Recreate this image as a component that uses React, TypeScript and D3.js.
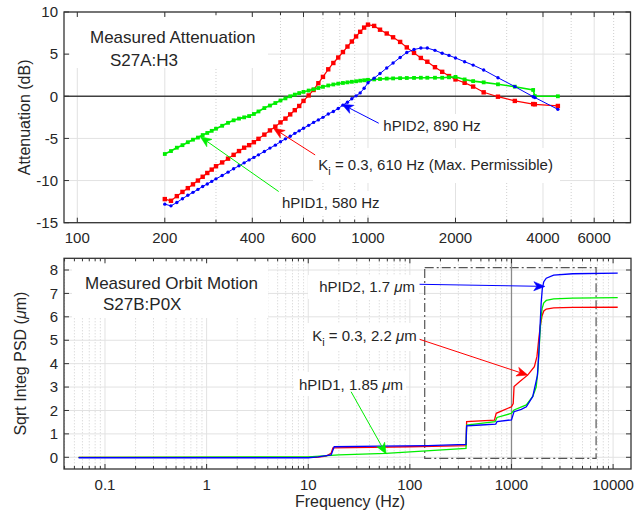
import * as d3 from "d3";
import { useEffect, useRef } from "react";

// ---------- top panel: measured attenuation (dB) ----------
const attFreq = [
  200, 210, 220, 230, 240, 250, 260, 270, 280, 290, 300, 315, 330, 345, 360, 375, 390, 405, 420,
  440, 460, 480, 500, 520, 540, 560, 580, 600, 625, 650, 675, 700, 730, 760, 790, 820, 850, 880,
  910, 940, 970, 1000, 1050, 1100, 1160, 1220, 1290, 1360, 1440, 1520, 1600, 1700, 1800, 1900,
  2000, 2150, 2300, 2500, 2800, 3200, 3700, 3750, 4500,
];
const attKi = [
  -12.2, -12.4, -11.85, -11.35, -10.9, -10.45, -10.0, -9.55, -9.1, -8.7, -8.3, -7.85, -7.4, -6.95,
  -6.5, -6.1, -5.8, -5.45, -5.05, -4.55, -4.05, -3.6, -3.1, -2.65, -2.15, -1.65, -1.15, -0.55, 0.1,
  0.75, 1.55, 2.3, 3.2, 3.95, 4.6, 5.25, 5.9, 6.5, 7.1, 7.65, 8.15, 8.5, 8.35, 7.9, 7.45, 7.0, 6.45,
  5.8, 5.15, 4.55, 4.1, 3.45, 2.9, 2.4, 2.0, 1.6, 1.15, 0.47, -0.05, -0.55, -0.92, -0.95, -1.15,
];
const attHpid1 = [
  -6.85, -6.5, -6.1, -5.8, -5.45, -5.15, -4.9, -4.6, -4.35, -4.1, -3.85, -3.5, -3.15, -2.85, -2.65,
  -2.5, -2.35, -2.1, -1.8, -1.4, -1.1, -0.8, -0.5, -0.25, 0.0, 0.2, 0.38, 0.52, 0.68, 0.83, 0.98,
  1.12, 1.28, 1.4, 1.5, 1.58, 1.65, 1.72, 1.78, 1.85, 1.9, 1.95, 2.0, 2.05, 2.1, 2.12, 2.15, 2.17,
  2.18, 2.2, 2.2, 2.2, 2.2, 2.25, 2.3, 2.0, 1.8, 1.65, 1.42, 1.14, 0.75, 0.02, 0.0,
];
const attHpid2 = [
  -12.8, -13.0, -12.6, -12.15, -11.75, -11.4, -11.05, -10.7, -10.4, -10.1, -9.8, -9.4, -9.0, -8.6,
  -8.25, -7.9, -7.55, -7.25, -6.95, -6.55, -6.15, -5.8, -5.4, -5.05, -4.75, -4.4, -4.1, -3.8, -3.45,
  -3.1, -2.8, -2.5, -2.1, -1.8, -1.45, -1.05, -0.7, -0.3, 0.05, 0.4, 0.95, 1.6, 2.15, 2.7, 3.35, 3.95,
  4.6, 5.2, 5.55, 5.72, 5.72, 5.45, 5.1, 4.85, 4.55, 4.1, 3.7, 3.12, 2.2, 1.15, -0.05, -0.15, -1.55,
];
const attTicks = [100, 200, 400, 600, 1000, 2000, 4000, 6000];
const attMinorTicks = [300, 500, 700, 800, 900, 3000, 5000, 7000, 8000];
const attYTicks = [-15, -10, -5, 0, 5, 10];

// ---------- bottom panel: sqrt integrated PSD (um) ----------
const psdKiFreq = [
  0.055, 12, 15, 16.8, 17.5, 100, 357, 362, 680, 707, 1000, 1040, 1060, 1200, 1450, 1680, 1780,
  1850, 1920, 2000, 2080, 2200, 2600, 4000, 11100,
];
const psdKi = [
  0.0, 0.0, 0.05, 0.17, 0.4, 0.45, 0.5, 1.52, 1.59, 1.88, 2.16, 2.3, 3.02, 3.23, 3.52, 3.87, 4.3,
  5.0, 5.6, 6.05, 6.25, 6.33, 6.38, 6.4, 6.41,
];
const psdHpid1Freq = [
  0.055, 10, 13, 20, 58, 145, 357, 362, 500, 690, 720, 1000, 1060, 1400, 1620, 1750, 1820, 1880,
  1940, 2000, 2080, 2200, 2600, 4000, 11100,
];
const psdHpid1 = [
  0.0, 0.02, 0.05, 0.1, 0.17, 0.27, 0.38, 1.38, 1.45, 1.52, 1.7, 1.88, 2.02, 2.24, 2.6, 3.0, 3.7,
  4.8, 5.8, 6.35, 6.6, 6.7, 6.77, 6.8, 6.82,
];
const psdHpid2Freq = [
  0.055, 10, 12.5, 16.8, 18, 50, 150, 357, 362, 500, 700, 720, 1000, 1060, 1250, 1400, 1620, 1800,
  1860, 1910, 1960, 2010, 2080, 2200, 2600, 4000, 11100,
];
const psdHpid2 = [
  -0.02, -0.02, 0.02, 0.1, 0.45, 0.48, 0.5, 0.55, 1.34, 1.38, 1.42, 1.52, 1.6, 1.95, 2.05, 2.16,
  2.6, 3.5, 4.5, 5.6, 6.6, 7.2, 7.5, 7.65, 7.78, 7.84, 7.87,
];
const psdTicks = [0.1, 1, 10, 100, 1000, 10000];
const psdYTicks = [0, 1, 2, 3, 4, 5, 6, 7, 8];

const FONT = "'Liberation Sans', Arial, Helvetica, sans-serif";
const INK = "#262626";
const RED = "#ff0000";
const GREEN = "#00ee00";
const BLUE = "#0000ff";

function arrow(g, x1, y1, x2, y2, color) {
  const dx = x2 - x1,
    dy = y2 - y1,
    len = Math.hypot(dx, dy),
    ux = dx / len,
    uy = dy / len;
  const hl = 11,
    hw = 4.5,
    notch = 3;
  const bx = x2 - ux * hl,
    by = y2 - uy * hl;
  const nx = x2 - ux * (hl - notch),
    ny = y2 - uy * (hl - notch);
  g.append("line")
    .attr("x1", x1)
    .attr("y1", y1)
    .attr("x2", nx)
    .attr("y2", ny)
    .style("stroke", color)
    .style("stroke-width", 1);
  g.append("path")
    .attr(
      "d",
      `M${x2},${y2}L${bx - uy * hw},${by + ux * hw}L${nx},${ny}L${bx + uy * hw},${by - ux * hw}Z`,
    )
    .style("fill", color)
    .style("stroke", color)
    .style("stroke-width", 0.6);
}

function label(g, x, y, size, anchor = "start") {
  return g
    .append("text")
    .attr("x", x)
    .attr("y", y)
    .attr("dy", "0.35em")
    .attr("text-anchor", anchor)
    .style("font-family", FONT)
    .style("font-size", size + "px")
    .style("fill", INK);
}

export default function App() {
  const ref = useRef<SVGSVGElement>(null);

  useEffect(() => {
    document.body.style.margin = "0";
    const svg = d3.select(ref.current);
    svg.selectAll("*").remove();

    // frame + grid common to both panels
    function frame(g, x, y, major, minor, yTicks, hideGrid) {
      const [l, r] = x.range();
      const [b, t] = y.range();
      g.selectAll(null)
        .data(minor)
        .enter()
        .append("line")
        .attr("x1", (d) => x(d))
        .attr("x2", (d) => x(d))
        .attr("y1", t)
        .attr("y2", b)
        .style("stroke", "#cfcfcf")
        .style("stroke-dasharray", "1,2");
      g.selectAll(null)
        .data(major)
        .enter()
        .append("line")
        .attr("x1", (d) => x(d))
        .attr("x2", (d) => x(d))
        .attr("y1", t)
        .attr("y2", b)
        .style("stroke", "#e2e2e2");
      g.selectAll(null)
        .data(yTicks.filter((d) => !hideGrid.includes(d)))
        .enter()
        .append("line")
        .attr("x1", l)
        .attr("x2", r)
        .attr("y1", (d) => y(d))
        .attr("y2", (d) => y(d))
        .style("stroke", "#e2e2e2");
    }

    function ticks(g, x, y, major, minor, yTicks, fmt) {
      const [l, r] = x.range();
      const [b, t] = y.range();
      const tk = g.append("g").style("stroke", "#333").style("stroke-width", 1);
      [
        [major, 5],
        [minor, 3],
      ].forEach(([vals, len]) => {
        vals.forEach((v) => {
          tk.append("line").attr("x1", x(v)).attr("x2", x(v)).attr("y1", b).attr("y2", b - len);
          tk.append("line").attr("x1", x(v)).attr("x2", x(v)).attr("y1", t).attr("y2", t + len);
        });
      });
      yTicks.forEach((v) => {
        tk.append("line").attr("x1", l).attr("x2", l + 5).attr("y1", y(v)).attr("y2", y(v));
        tk.append("line").attr("x1", r).attr("x2", r - 5).attr("y1", y(v)).attr("y2", y(v));
      });
      g.append("rect")
        .attr("x", l)
        .attr("y", t)
        .attr("width", r - l)
        .attr("height", b - t)
        .style("fill", "none")
        .style("stroke", "#333")
        .style("stroke-width", 1.3);
      major.forEach((v) => label(g, x(v), b + 15.5, 15, "middle").text(fmt(v)));
      yTicks.forEach((v) => label(g, l - 6, y(v), 15, "end").text(String(v)));
    }

    function boxes(g, list) {
      list.forEach(([x0, y0, x1, y1]) =>
        g
          .append("rect")
          .attr("x", x0)
          .attr("y", y0)
          .attr("width", x1 - x0)
          .attr("height", y1 - y0)
          .style("fill", "#fff"),
      );
    }

    // ================= top panel =================
    const xA = d3.scaleLog().domain([90, 8000]).range([64, 630.5]);
    const yA = d3.scaleLinear().domain([-15, 10]).range([222.7, 12]);
    const top = svg.append("g");
    frame(top, xA, yA, attTicks, attMinorTicks, attYTicks, [0]);
    boxes(top, [
      [70, 16, 268, 68],
      [378, 114, 488, 138],
      [313, 148, 560, 183],
      [277, 191, 395, 215],
    ]);
    top
      .append("line")
      .attr("x1", xA.range()[0])
      .attr("x2", xA.range()[1])
      .attr("y1", yA(0))
      .attr("y2", yA(0))
      .style("stroke", "#404040")
      .style("stroke-width", 1.4);

    const lineA = d3
      .line<number>()
      .x((d, i) => xA(attFreq[i]))
      .y((d) => yA(d));

    const series = [
      { v: attKi, c: RED, w: 1.2, shape: "sq", s: 4.4 },
      { v: attHpid1, c: GREEN, w: 1.6, shape: "sq", s: 3.8 },
      { v: attHpid2, c: BLUE, w: 1, shape: "dot", s: 1.7 },
    ];
    series.forEach((sr) => {
      top
        .append("path")
        .attr("d", lineA(sr.v))
        .style("fill", "none")
        .style("stroke", sr.c)
        .style("stroke-width", sr.w);
      const mk = top.append("g").style("fill", sr.c);
      sr.v.forEach((v, i) => {
        if (sr.shape === "sq") {
          mk.append("rect")
            .attr("x", xA(attFreq[i]) - sr.s / 2)
            .attr("y", yA(v) - sr.s / 2)
            .attr("width", sr.s)
            .attr("height", sr.s);
        } else {
          mk.append("circle").attr("cx", xA(attFreq[i])).attr("cy", yA(v)).attr("r", sr.s);
        }
      });
    });

    ticks(top, xA, yA, attTicks, attMinorTicks, attYTicks, (v) => String(v));

    top
      .append("text")
      .attr("transform", `translate(24,${(yA.range()[0] + yA.range()[1]) / 2}) rotate(-90)`)
      .attr("text-anchor", "middle")
      .attr("dy", "0.35em")
      .style("font-family", FONT)
      .style("font-size", "16px")
      .style("fill", INK)
      .text("Attenuation (dB)");

    label(top, 90, 37.3, 17).text("Measured Attenuation");
    label(top, 110, 60, 17).text("S27A:H3");
    label(top, 383.3, 126, 15).text("hPID2, 890 Hz");
    const kiA = label(top, 318.3, 165, 15);
    kiA.append("tspan").text("K");
    kiA.append("tspan").attr("dy", 5).style("font-size", "11px").text("i");
    kiA.append("tspan").attr("dy", -5).text(" = 0.3, 610 Hz (Max. Permissible)");
    label(top, 282, 202.7, 15).text("hPID1, 580 Hz");

    // arrows in data coordinates [tail f, tail dB, tip f, tip dB]
    const attArrows = [
      [493, -11.3, 265, -4.8, GREEN],
      [658, -6.96, 473, -3.8, RED],
      [1089, -3.2, 814, -0.95, BLUE],
    ];
    attArrows.forEach(([f1, v1, f2, v2, c]) => arrow(top, xA(f1), yA(v1), xA(f2), yA(v2), c));

    // ================= bottom panel =================
    const xB = d3.scaleLog().domain([0.0395, 15000]).range([64, 631]);
    const yB = d3.scaleLinear().domain([-0.5, 8.5]).range([469, 258.3]);
    const bot = svg.append("g");
    const minorB = [];
    [0.01, 0.1, 1, 10, 100, 1000, 10000].forEach((dec) => {
      for (let k = 2; k <= 9; k++) {
        const v = dec * k;
        if (v > 0.0395 && v < 15000) minorB.push(v);
      }
    });
    frame(bot, xB, yB, psdTicks, minorB, psdYTicks, []);
    boxes(bot, [
      [72, 261, 268, 318],
      [308, 275, 419, 299],
      [304, 323, 420, 351],
      [294, 372, 406, 396],
    ]);

    // dash-dot region and 1 kHz marker
    bot
      .append("rect")
      .attr("x", xB(140))
      .attr("y", yB(8.1))
      .attr("width", xB(6800) - xB(140))
      .attr("height", yB(-0.05) - yB(8.1))
      .style("fill", "none")
      .style("stroke", "#555")
      .style("stroke-width", 1.2)
      .style("stroke-dasharray", "9,3,2,3");
    bot
      .append("line")
      .attr("x1", xB(1000))
      .attr("x2", xB(1000))
      .attr("y1", yB.range()[1])
      .attr("y2", yB.range()[0])
      .style("stroke", "#8a8a8a")
      .style("stroke-width", 1.3);

    const psdSeries = [
      { f: psdKiFreq, v: psdKi, c: RED },
      { f: psdHpid1Freq, v: psdHpid1, c: GREEN },
      { f: psdHpid2Freq, v: psdHpid2, c: BLUE },
    ];
    psdSeries.forEach((sr) => {
      const ln = d3
        .line<number>()
        .x((d, i) => xB(sr.f[i]))
        .y((d) => yB(d));
      bot
        .append("path")
        .attr("d", ln(sr.v))
        .style("fill", "none")
        .style("stroke", sr.c)
        .style("stroke-width", 1.3);
    });

    ticks(bot, xB, yB, psdTicks, minorB, psdYTicks, (v) => String(v));

    const yl = bot
      .append("text")
      .attr("transform", `translate(20.3,${(yB.range()[0] + yB.range()[1]) / 2}) rotate(-90)`)
      .attr("text-anchor", "middle")
      .attr("dy", "0.35em")
      .style("font-family", FONT)
      .style("font-size", "16px")
      .style("fill", INK);
    yl.append("tspan").text("Sqrt Integ PSD (");
    yl.append("tspan").style("font-style", "italic").text("μ");
    yl.append("tspan").text("m)");

    label(bot, 350, 501.5, 16, "middle").text("Frequency (Hz)");

    label(bot, 85, 282.7, 17).text("Measured Orbit Motion");
    label(bot, 103, 304.3, 17).text("S27B:P0X");

    const t1 = label(bot, 415, 286.7, 15, "end");
    t1.append("tspan").text("hPID2, 1.7 ");
    t1.append("tspan").style("font-style", "italic").text("μ");
    t1.append("tspan").text("m");

    const t2 = label(bot, 416.7, 336, 15, "end");
    t2.append("tspan").text("K");
    t2.append("tspan").attr("dy", 5).style("font-size", "11px").text("i");
    t2.append("tspan").attr("dy", -5).text(" = 0.3, 2.2 ");
    t2.append("tspan").style("font-style", "italic").text("μ");
    t2.append("tspan").text("m");

    const t3 = label(bot, 403, 384.3, 15, "end");
    t3.append("tspan").text("hPID1, 1.85 ");
    t3.append("tspan").style("font-style", "italic").text("μ");
    t3.append("tspan").text("m");

    const psdArrows = [
      [124.6, 7.39, 2130, 7.3, BLUE],
      [124.6, 5.04, 1447, 3.51, RED],
      [26.4, 2.8, 58.4, 0.14, GREEN],
    ];
    psdArrows.forEach(([f1, v1, f2, v2, c]) => arrow(bot, xB(f1), yB(v1), xB(f2), yB(v2), c));
  }, []);

  return <svg ref={ref} width={643} height={514} style={{ display: "block", background: "#fff" }} />;
}
